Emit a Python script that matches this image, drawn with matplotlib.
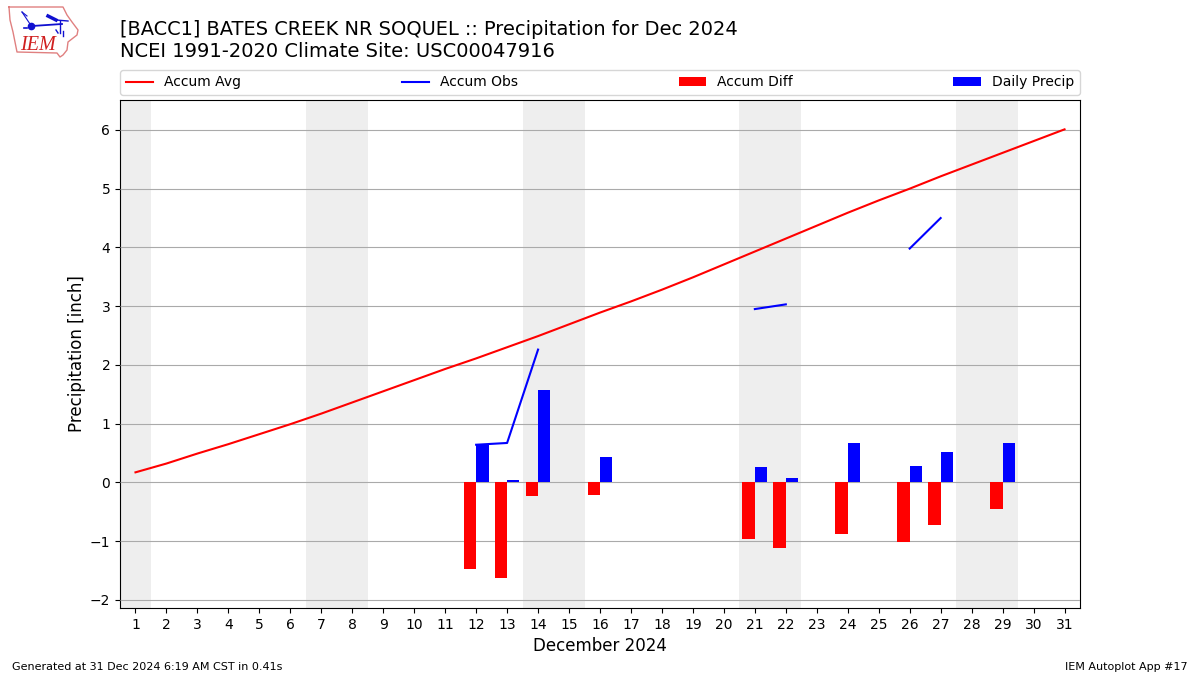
import numpy as np
import matplotlib
matplotlib.use('Agg')
import matplotlib.pyplot as plt

days = list(range(1, 32))
accum_avg = [0.17, 0.32, 0.49, 0.65, 0.82, 0.99, 1.17, 1.36, 1.55, 1.74, 1.93,
             2.11, 2.30, 2.49, 2.69, 2.89, 3.08, 3.28, 3.49, 3.71, 3.93, 4.15,
             4.37, 4.59, 4.80, 5.00, 5.21, 5.41, 5.61, 5.81, 6.01]

obs_days = [12, 13, 14, 21, 22, 26, 27]
accum_obs = [0.64, 0.67, 2.26, 2.95, 3.03, 3.98, 4.50]
accum_diff = [-1.47, -1.63, -0.23, -0.21, -0.96, -1.12, -0.88, -1.01, -0.73, -0.45]

rain_days = [12, 13, 14, 16, 21, 22, 24, 26, 27, 29]
daily_precip = [0.64, 0.04, 1.57, 0.43, 0.26, 0.07, 0.67, 0.28, 0.52, 0.67]

weekends = [(0.5, 1.5), (6.5, 8.5), (13.5, 15.5), (20.5, 22.5), (27.5, 29.5)]

# logo, in pixels of the top left corner
state_x = [9, 63, 67, 72, 78, 77, 68, 67, 63, 60, 57, 17, 15, 13, 10, 9]
state_y = [7, 7, 15, 22, 30, 35, 42, 50, 55, 57, 53, 52, 42, 32, 20, 7]

fig = plt.figure(figsize=(12, 6.75), dpi=100)
ax = fig.add_axes([120 / 1200, 67 / 675, 960 / 1200, 508 / 675])

for start, end in weekends:
    ax.axvspan(start, end, color='#EEEEEE', lw=0, zorder=1)

ax.plot(days, accum_avg, color='r', label='Accum Avg', zorder=4)

# the obs line breaks where a day is missing
obs_series = np.full(31, np.nan)
for d, v in zip(obs_days, accum_obs):
    obs_series[d - 1] = v
ax.plot(days, obs_series, color='b', label='Accum Obs', zorder=4)

ax.bar(rain_days, accum_diff, width=-0.4, align='edge', color='r', label='Accum Diff', zorder=3)
ax.bar(rain_days, daily_precip, width=0.4, align='edge', color='b', label='Daily Precip', zorder=3)

ax.set_xlim(0.5, 31.5)
ax.set_ylim(-2.14, 6.51)
ax.set_xticks(days)
ax.set_yticks(range(-2, 7))
ax.grid(axis='y', color='#AAAAAA', linewidth=0.8, zorder=2)
ax.set_axisbelow(False)
ax.set_xlabel('December 2024', fontsize=12)
ax.set_ylabel('Precipitation [inch]', fontsize=12, labelpad=3)
ax.legend(loc='lower left', bbox_to_anchor=(0, 1.0098, 1, 0.05), mode='expand',
          ncol=4, borderaxespad=0, fontsize=10)

fig.text(120 / 1200, 1 - 35 / 675, '[BACC1] BATES CREEK NR SOQUEL :: Precipitation for Dec 2024',
         fontsize=13.98, ha='left', va='baseline')
fig.text(120 / 1200, 1 - 57 / 675, 'NCEI 1991-2020 Climate Site: USC00047916',
         fontsize=14, ha='left', va='baseline')
fig.text(12 / 1200, 1 - 670 / 675, 'Generated at 31 Dec 2024 6:19 AM CST in 0.41s',
         fontsize=8, ha='left', va='baseline')
fig.text(1188 / 1200, 1 - 670 / 675, 'IEM Autoplot App #17',
         fontsize=8, ha='right', va='baseline')

logo = fig.add_axes([0, 1 - 65 / 675, 110 / 1200, 65 / 675])
logo.set_xlim(0, 110)
logo.set_ylim(65, 0)
logo.axis('off')
logo.plot(state_x, state_y, color='#E08080', lw=1.0)
logo.plot([32, 62], [26, 24], color='#1010D0', lw=1.3)
logo.plot([31], [26], 'o', color='#1010D0', ms=4.5)
logo.plot([48, 56], [16, 20], color='#1010D0', lw=2.5)
logo.plot([56, 68], [20, 21], color='#1010D0', lw=1.0)
logo.plot([60, 60], [21, 33], color='#1010D0', lw=1.0)
logo.plot([56, 58], [30, 33], color='#1010D0', lw=1.0)
logo.plot([63, 63], [31, 36], color='#1010D0', lw=1.0)
logo.plot([22, 30], [12, 24], color='#1010D0', lw=0.8)
logo.plot([22, 27], [12, 16], color='#1010D0', lw=0.8)
logo.plot([24, 27], [28, 28], color='#1010D0', lw=1.2)
logo.text(38, 45, 'IEM', color='#D02020', fontsize=14.5, family='Liberation Serif',
          style='italic', ha='center', va='center')

fig.savefig('out.png', dpi=100)
